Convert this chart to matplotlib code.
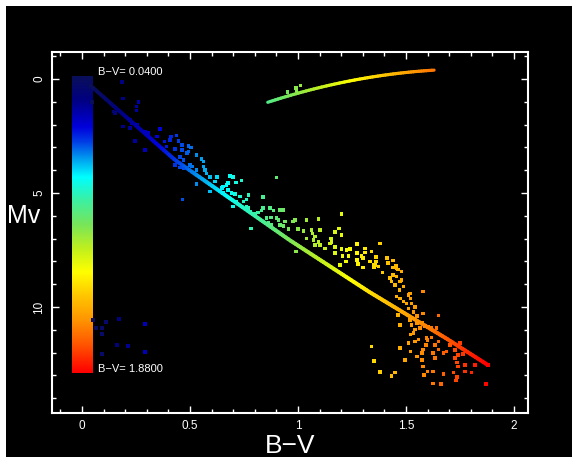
import numpy as np
import matplotlib
matplotlib.use('Agg')
import matplotlib.pyplot as plt
from matplotlib.colors import LinearSegmentedColormap, Normalize
from matplotlib.collections import LineCollection
from matplotlib.patches import Rectangle
from matplotlib.ticker import MultipleLocator

plt.rcParams['font.family'] = ['Liberation Sans', 'DejaVu Sans']

# ---------------- data ----------------
star_bv = [0.184, 0.191, 0.261, 0.253, 0.253, 0.145, 0.153, 0.045, 0.222, 0.230,
           0.191, 0.222, 0.361, 0.407, 0.245, 0.292, 0.438, 0.446, 0.492, 0.462,
           0.431, 0.492, 0.531, 0.554, 0.562, 0.562, 0.569, 0.431, 0.454, 0.508,
           0.531, 0.466, 0.624, 0.616, 0.593, 0.685, 0.700, 0.670, 0.739, 0.677,
           0.647, 0.693, 0.731, 0.770, 0.716, 0.747, 0.762, 0.700, 0.739, 0.256,
           0.292, 0.307, 0.346, 0.381, 0.412, 0.392, 0.505, 0.485, 0.454, 0.469,
           0.462, 0.500, 0.469, 0.577, 0.593, 0.677, 0.712, 0.654, 0.531, 0.654,
           0.708, 0.762, 0.901, 0.839, 0.870, 0.886, 0.917, 0.932, 0.839, 0.832,
           0.816, 0.874, 0.901, 0.909, 0.878, 0.917, 0.940, 0.978, 0.986, 0.955,
           0.782, 0.770, 0.778, 0.801, 0.855, 0.863, 0.932,
           1.202, 1.040, 1.094, 1.001, 1.025, 1.063, 1.102, 1.068, 1.079, 1.040,
           1.071, 1.094, 1.079, 1.102, 1.125, 0.991, 1.153, 1.156, 1.148, 1.171,
           1.171, 1.191, 1.202, 1.202, 1.225, 1.241, 1.171, 1.207, 1.233, 1.272,
           1.310, 1.310, 1.341, 1.380, 1.272, 1.295, 1.272, 1.302, 1.333, 1.361,
           1.361, 1.411, 1.441, 1.418, 1.194, 1.222, 1.279, 1.302, 1.349, 1.372,
           1.441, 1.457,
           1.356, 1.352, 1.392, 1.454, 1.464, 1.480, 1.441, 1.457, 1.426, 1.434,
           1.449, 1.472, 1.480, 1.488, 1.469, 1.457, 1.472, 1.488, 1.511, 1.519,
           1.522, 1.503, 1.526, 1.511, 1.542, 1.534, 1.580, 1.580, 1.550, 1.650,
           1.464, 1.472, 1.519, 1.526, 1.550, 1.573, 1.588, 1.565, 1.542, 1.619,
           1.642, 1.522, 1.534, 1.557, 1.596,
           1.341, 1.352, 1.380, 1.434, 1.449, 1.472, 1.511, 1.522, 1.542, 1.495,
           1.552, 1.573, 1.573, 1.580, 1.593, 1.599, 1.619, 1.634, 1.650, 1.650,
           1.626, 1.634, 1.673, 1.688, 1.704, 1.727, 1.750, 1.742, 1.765, 1.727,
           1.735, 1.742, 1.773, 1.819, 1.719, 1.773, 1.804, 1.735, 1.731, 1.580,
           1.599, 1.624, 1.673, 1.583, 1.624, 1.661, 1.870, 1.603,
           0.952, 0.991, 0.994, 1.012,
           0.051, 0.065, 0.093, 0.111, 0.171, 0.093, 0.162, 0.213, 0.292, 0.292, 0.093]
star_mv = [0.14, 0.85, 1.02, 1.21, 1.39, 1.43, 1.50, 1.02, 1.80, 1.94,
           2.09, 2.16, 2.19, 2.68, 2.72, 3.11, 2.49, 2.72, 2.94, 3.11,
           3.08, 3.19, 3.33, 3.52, 3.63, 3.85, 3.99, 3.77, 3.89, 3.85,
           3.99, 5.28, 4.29, 4.50, 4.94, 4.25, 4.31, 4.65, 4.46, 4.87,
           4.79, 5.01, 5.16, 5.09, 5.38, 5.38, 5.60, 5.60, 5.60, 2.02,
           2.31, 2.38, 2.53, 2.75, 2.53, 2.97, 3.01, 3.26, 3.43, 3.55,
           2.89, 3.77, 3.92, 4.14, 4.29, 4.57, 4.55, 4.72, 4.61, 5.01,
           5.04, 5.28, 4.33, 5.19, 5.67, 5.78, 5.75, 5.75, 5.67, 5.78,
           5.86, 6.07, 6.11, 6.18, 6.40, 6.40, 6.26, 6.26, 6.18, 6.59,
           6.55, 5.67, 5.82, 5.92, 6.11, 6.30, 6.45,
           5.93, 6.18, 6.15, 6.59, 6.67, 6.62, 6.62, 6.77, 6.92, 6.99,
           7.06, 7.14, 7.28, 7.28, 7.43, 7.57, 6.99, 7.14, 7.21, 7.36,
           6.72, 6.55, 6.84, 7.47, 7.50, 7.47, 7.64, 7.76, 7.76, 7.24,
           7.43, 7.62, 7.57, 7.21, 7.64, 7.76, 7.94, 7.86, 8.01, 7.82,
           8.01, 7.86, 7.97, 8.08, 8.16, 8.01, 8.11, 8.26, 8.16, 8.23,
           8.26, 8.30,
           8.16, 8.27, 8.48, 8.20, 8.35, 8.45, 8.60, 8.67, 8.74, 8.89,
           9.04, 8.89, 8.82, 9.11, 9.25, 9.55, 9.62, 9.77, 9.47, 9.40,
           9.62, 9.84, 9.84, 10.06, 9.99, 10.21, 9.33, 10.28, 10.39, 10.38,
           10.35, 10.79, 10.57, 10.79, 10.72, 10.69, 10.83, 10.93, 10.98, 10.93,
           10.93, 11.20, 11.15, 11.42, 11.37,
           11.74, 12.37, 12.86, 13.03, 12.88, 11.81, 11.57, 11.96, 11.52, 12.32,
           12.18, 12.32, 12.03, 11.86, 11.67, 11.45, 11.33, 11.67, 11.52, 11.86,
           12.03, 12.25, 12.03, 11.96, 11.67, 11.89, 11.59, 12.11, 12.06, 12.25,
           12.44, 12.62, 12.54, 12.54, 12.88, 12.84, 12.88, 13.06, 13.22, 12.62,
           12.84, 12.84, 12.94, 12.98, 13.35, 13.39, 13.38, 10.89,
           0.58, 0.41, 0.51, 0.28,
           10.57, 10.92, 10.92, 10.66, 10.53, 11.18, 11.67, 11.71, 10.75, 11.97, 12.06]

ms_bv = [0.04, 0.43, 0.96, 1.33, 1.69, 1.88]
ms_mv = [0.30, 3.55, 7.06, 9.34, 11.40, 12.55]

giant_bv = [0.86, 1.01, 1.24, 1.47, 1.63]
giant_mv = [1.05, 0.55, 0.12, -0.25, -0.39]

bv_min, bv_max = 0.04, 1.88
bar_bv = [-0.048, 0.045]
bar_mv = [-0.13, 12.89]

xtick_vals = [0, 0.5, 1, 1.5, 2]
xtick_labels = ['0', '0.5', '1', '1.5', '2']
ytick_vals = [0, 5, 10]
ytick_labels = ['0', '5', '10']

# ---------------- colour map ----------------
cmap = LinearSegmentedColormap.from_list('hr', [
    (0.00, (0.04, 0.06, 0.35)),
    (0.08, (0.00, 0.00, 0.51)),
    (0.17, (0.00, 0.00, 0.86)),
    (0.22, (0.00, 0.24, 0.90)),
    (0.28, (0.00, 0.63, 0.94)),
    (0.34, (0.00, 1.00, 1.00)),
    (0.42, (0.24, 0.94, 0.63)),
    (0.50, (0.47, 0.90, 0.35)),
    (0.58, (0.75, 0.94, 0.12)),
    (0.66, (1.00, 1.00, 0.00)),
    (0.74, (1.00, 0.78, 0.00)),
    (0.82, (1.00, 0.59, 0.00)),
    (0.90, (1.00, 0.35, 0.00)),
    (1.00, (1.00, 0.00, 0.00)),
])
norm = Normalize(bv_min, bv_max)

# ---------------- figure ----------------
W, H = 572, 457
fig = plt.figure(figsize=(W / 100, H / 100), dpi=100, facecolor='white')
fig.patches.append(Rectangle((6 / W, 0), 1 - 6 / W, 1 - 6 / H,
                             transform=fig.transFigure, facecolor='black',
                             edgecolor='none', zorder=-10))
ax = fig.add_axes([52 / W, 44 / H, 476 / W, 361 / H])
ax.set_facecolor('black')


def gradient_line(xs, ys, lw, smooth=False):
    n = max(20, int((xs[-1] - xs[0]) * 216 / 2.5))
    xd = np.linspace(xs[0], xs[-1], n)
    if smooth:
        yd = np.polyval(np.polyfit(xs, ys, 2), xd)
    else:
        yd = np.interp(xd, xs, ys)
    pts = np.column_stack([xd, yd]).reshape(-1, 1, 2)
    segs = np.concatenate([pts[:-1], pts[1:]], axis=1)
    lc = LineCollection(segs, colors=cmap(norm(0.5 * (xd[:-1] + xd[1:]))),
                        linewidths=lw, capstyle='round', zorder=3)
    ax.add_collection(lc)


# colour bar drawn inside the axes
grad = np.linspace(0, 1, 256)[:, None]
ax.imshow(grad, cmap=cmap, extent=[bar_bv[0], bar_bv[1], bar_mv[1], bar_mv[0]],
          origin='upper', aspect='auto', zorder=2, interpolation='bilinear')

ax.scatter(star_bv, star_mv, c=star_bv, cmap=cmap, norm=norm, marker='s',
           s=6.5, linewidths=0, zorder=4)

gradient_line(ms_bv, ms_mv, 2.8)
gradient_line(giant_bv, giant_mv, 2.3, smooth=True)
ax.plot([ms_bv[-1]], [ms_mv[-1]], 's', color=cmap(1.0), ms=3.5, mew=0, zorder=5)

ax.text(0.074, -0.31, 'B\u2212V= %.4f' % bv_min, color='white', fontsize=8,
        ha='left', va='center', zorder=6)
ax.text(0.074, 12.70, 'B\u2212V= %.4f' % bv_max, color='white', fontsize=8,
        ha='left', va='center', zorder=6)

ax.set_xlim(-0.139, 2.065)
ax.set_ylim(14.65, -1.18)

ax.set_xticks(xtick_vals)
ax.set_xticklabels(xtick_labels)
ax.set_yticks(ytick_vals)
ax.set_yticklabels(ytick_labels, rotation=90, va='center')
ax.xaxis.set_minor_locator(MultipleLocator(0.1))
ax.yaxis.set_minor_locator(MultipleLocator(1))
ax.tick_params(which='both', direction='in', top=True, right=True,
               color='white', labelcolor='white', width=1.0)
ax.tick_params(which='major', length=5, labelsize=8.5)
ax.tick_params(which='minor', length=2.8)
ax.tick_params(axis='x', pad=5)
ax.tick_params(axis='y', pad=5)
for sp in ax.spines.values():
    sp.set_color('white')
    sp.set_linewidth(1.5)

fig.text(24 / W, (H - 216) / H, 'Mv', color='white', fontsize=18,
         ha='center', va='center')
fig.text(290 / W, (H - 453) / H, 'B\u2212V', color='white', fontsize=19,
         ha='center', va='baseline')

fig.savefig('out.png', dpi=100, facecolor=fig.get_facecolor())
